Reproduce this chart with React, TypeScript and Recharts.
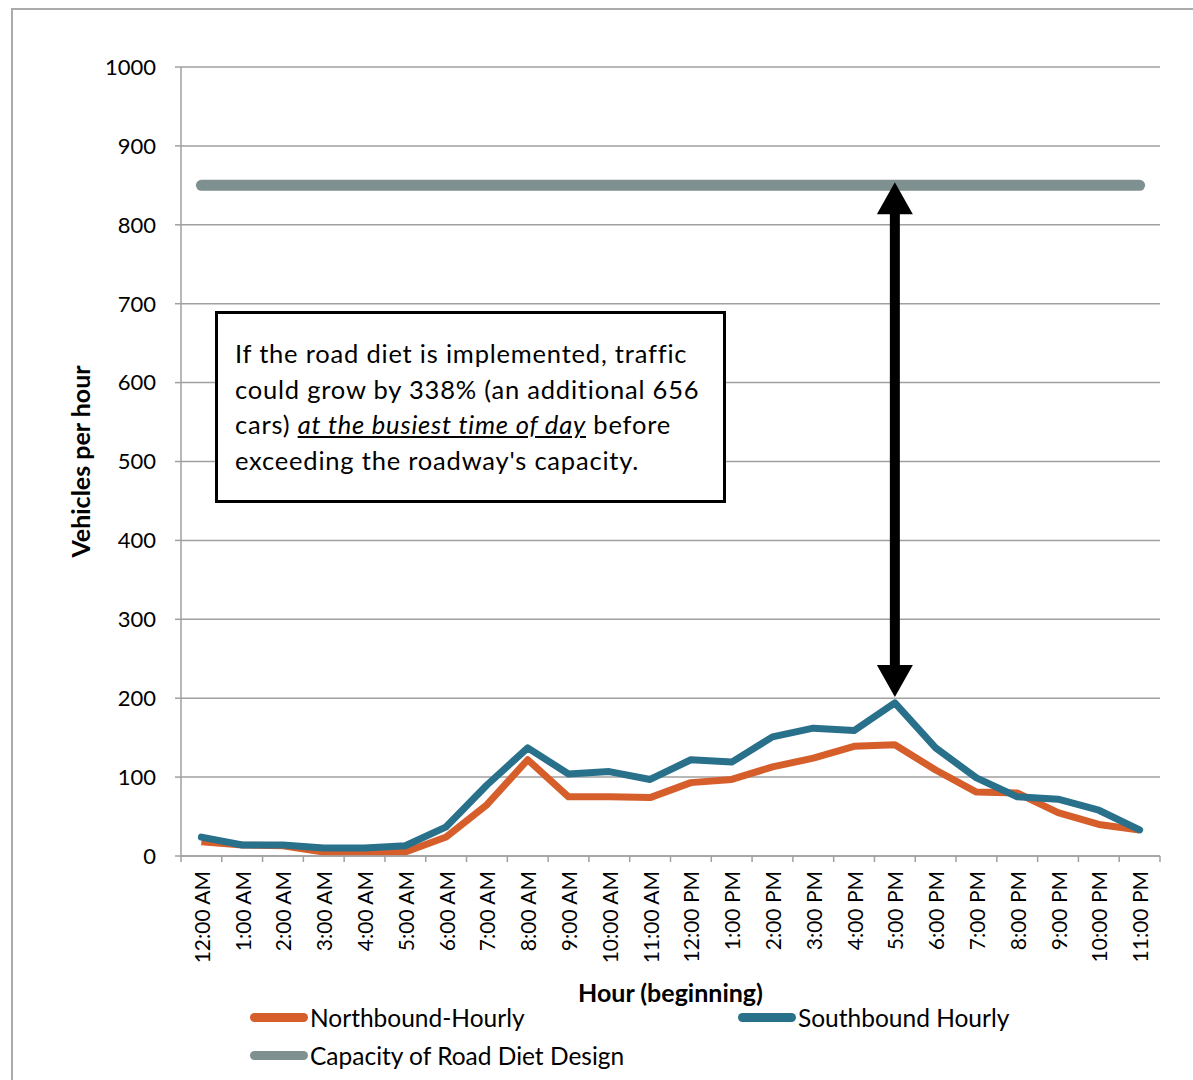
import React from 'react'
import {
  LineChart, Line, XAxis, YAxis, CartesianGrid, ReferenceLine,
} from 'recharts'

const HOURS = [
  '12:00 AM', '1:00 AM', '2:00 AM', '3:00 AM', '4:00 AM', '5:00 AM',
  '6:00 AM', '7:00 AM', '8:00 AM', '9:00 AM', '10:00 AM', '11:00 AM',
  '12:00 PM', '1:00 PM', '2:00 PM', '3:00 PM', '4:00 PM', '5:00 PM',
  '6:00 PM', '7:00 PM', '8:00 PM', '9:00 PM', '10:00 PM', '11:00 PM',
]
const NORTHBOUND = [18, 14, 13, 5, 5, 5, 24, 65, 122, 75, 75, 74, 93, 97, 113, 124, 139, 141, 109, 81, 80, 55, 40, 33]
const SOUTHBOUND = [24, 14, 14, 10, 10, 13, 37, 90, 137, 104, 107, 97, 122, 119, 151, 162, 159, 194, 137, 99, 75, 72, 58, 33]
const CAPACITY = 850
const Y_TICKS = [0, 100, 200, 300, 400, 500, 600, 700, 800, 900, 1000]

// busiest hour: southbound peak
const PEAK_HOUR = '5:00 PM'
const PEAK_VALUE = 194

const data = HOURS.map((hour, i) => ({
  hour,
  north: NORTHBOUND[i],
  south: SOUTHBOUND[i],
  capacity: CAPACITY,
}))

const FONT = 'Lato, "Open Sans", sans-serif'
const ORANGE = '#D65E2B'
const BLUE = '#29708B'
const GREY = '#7F9090'
const AXIS = '#A0A0A0'

function HourTick(props: any) {
  const { x, y, payload, index, visibleTicksCount } = props
  const half = payload?.offset ?? 20.4
  const isLast = index === (visibleTicksCount ?? HOURS.length) - 1
  return (
    <g>
      <line x1={x - half} x2={x - half} y1={y} y2={y + 6} stroke={AXIS} strokeWidth={1.5} />
      {isLast && <line x1={x + half} x2={x + half} y1={y} y2={y + 6} stroke={AXIS} strokeWidth={1.5} />}
      <text
        transform={`translate(${x},${y + 15}) rotate(-90)`}
        textAnchor="end" dominantBaseline="central"
        fontFamily={FONT} fontSize={21} fill="#000"
      >{payload.value}</text>
    </g>
  )
}

// double-headed arrow between the capacity line and the peak
function DoubleArrow(props: any) {
  const { x1, y1, x2, y2 } = props
  const x = (x1 + x2) / 2
  const top = Math.min(y1, y2) - 3
  const bottom = Math.max(y1, y2) - 6
  const head = 32, hw = 18, sw = 5
  return (
    <g>
      <rect x={x - sw} y={top + head - 2} width={sw * 2} height={bottom - top - 2 * head + 4} fill="#000" />
      <path d={`M${x},${top} L${x + hw},${top + head} L${x - hw},${top + head} Z`} fill="#000" />
      <path d={`M${x},${bottom} L${x + hw},${bottom - head} L${x - hw},${bottom - head} Z`} fill="#000" />
    </g>
  )
}

const LEGEND = [
  { color: ORANGE, label: 'Northbound-Hourly', left: 250, top: 1017 },
  { color: BLUE, label: 'Southbound Hourly', left: 738, top: 1017 },
  { color: GREY, label: 'Capacity of Road Diet Design', left: 250, top: 1055 },
]

export default function App() {
  return (
    <div style={{ position: 'absolute', left: 0, top: 0, width: 1193, height: 1080, overflow: 'hidden', background: '#fff', fontFamily: FONT }}>
      <div style={{
        position: 'absolute', left: 11, top: 8, width: 1190, height: 1080,
        borderLeft: '2px solid #ABABAB', borderTop: '2px solid #ABABAB',
      }} />

      <div style={{ position: 'absolute', left: 0, top: 0 }}>
        <LineChart width={1193} height={1080} data={data}
          margin={{ top: 67, right: 33, left: 61, bottom: 84 }}>
          <CartesianGrid vertical={false} stroke={AXIS} strokeWidth={1.5} />
          <XAxis
            dataKey="hour" scale="band" interval={0}
            height={140} tickLine={false} tickSize={0} tickMargin={0}
            axisLine={{ stroke: AXIS, strokeWidth: 1.5 }}
            tick={<HourTick />}
            label={{
              content: ({ viewBox }: any) => (
                <text x={viewBox.x + viewBox.width / 2} y={viewBox.y + 136}
                  textAnchor="middle" dominantBaseline="central"
                  fontFamily={FONT} fontWeight={700} fontSize={25} fill="#000">Hour (beginning)</text>
              ),
            }}
          />
          <YAxis
            domain={[0, 1000]} ticks={Y_TICKS} width={120}
            tickSize={6} tickMargin={19}
            tickLine={{ stroke: AXIS, strokeWidth: 1.5 }}
            axisLine={{ stroke: AXIS, strokeWidth: 1.5 }}
            tick={{ fontFamily: FONT, fontSize: 22, fill: '#000' }}
            label={{
              content: ({ viewBox }: any) => {
                const cx = viewBox.x + 19
                const cy = viewBox.y + viewBox.height / 2
                return (
                  <text transform={`translate(${cx},${cy}) rotate(-90)`}
                    textAnchor="middle" dominantBaseline="central"
                    fontFamily={FONT} fontWeight={700} fontSize={25} fill="#000">Vehicles per hour</text>
                )
              },
            }}
          />
          <Line dataKey="capacity" stroke={GREY} strokeWidth={11} strokeLinecap="round"
            dot={false} activeDot={false} isAnimationActive={false} />
          <Line dataKey="north" stroke={ORANGE} strokeWidth={7} strokeLinejoin="round"
            dot={false} activeDot={false} isAnimationActive={false} />
          <Line dataKey="south" stroke={BLUE} strokeWidth={7} strokeLinejoin="round" strokeLinecap="round"
            dot={false} activeDot={false} isAnimationActive={false} />
          <ReferenceLine
            segment={[{ x: PEAK_HOUR, y: CAPACITY }, { x: PEAK_HOUR, y: PEAK_VALUE }]}
            shape={<DoubleArrow />}
          />
        </LineChart>
      </div>

      <div style={{
        position: 'absolute', left: 215, top: 311, width: 511, height: 192, boxSizing: 'border-box',
        border: '3px solid #000', background: '#fff', padding: '22px 0 0 17px',
        fontSize: 25.5, lineHeight: '35.7px', letterSpacing: 0.8, color: '#000', whiteSpace: 'nowrap',
      }}>
        <div>If the road diet is implemented, traffic</div>
        <div>could grow by 338% (an additional 656</div>
        <div>cars) <span style={{ fontStyle: 'italic', textDecoration: 'underline' }}>at the busiest time of day</span> before</div>
        <div>exceeding the roadway's capacity.</div>
      </div>

      {LEGEND.map(({ color, label, left, top }) => (
        <div key={label} style={{ position: 'absolute', left, top: top - 16, height: 32, display: 'flex', alignItems: 'center' }}>
          <div style={{ width: 58, height: 9, borderRadius: 5, background: color }} />
          <span style={{ fontSize: 24.5, color: '#000', marginLeft: 2 }}>{label}</span>
        </div>
      ))}
    </div>
  )
}
